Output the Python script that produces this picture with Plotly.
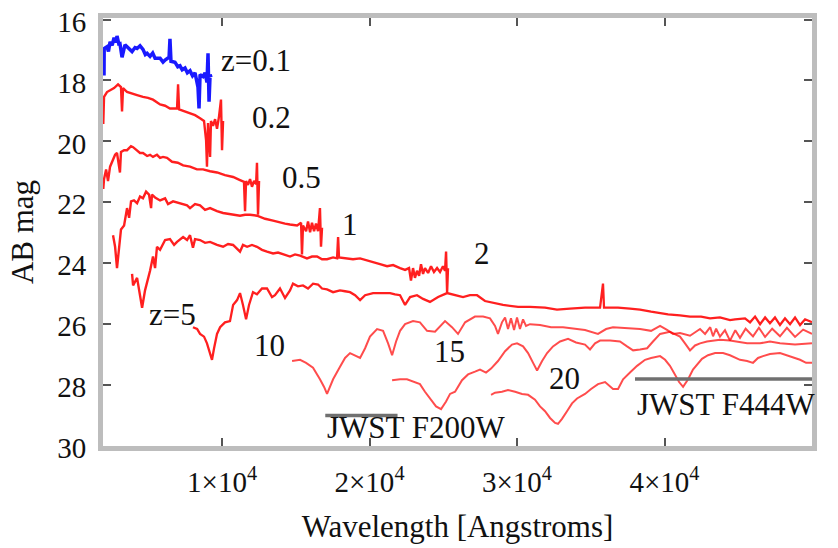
import plotly.graph_objects as go

# ---- data (wavelength in Angstroms, AB magnitude) ----
z01_wave = [2000, 2010, 2200, 2300, 2410, 2550, 2680, 2800, 2880, 3000, 3080, 3220, 3420, 3560, 3700, 3900, 4100, 4240, 4440, 4640, 4800, 4920, 5120, 5300, 5460, 5800, 6000, 6140, 6410, 6470, 6540, 6810, 7000, 7150, 7300, 7490, 7650, 7830, 8000, 8170, 8370, 8440, 8510, 8710, 8850, 8980, 9050, 9120, 9190, 9250]
z01_mag = [17.84, 16.95, 16.89, 17.05, 16.73, 16.85, 16.60, 16.75, 16.54, 16.80, 16.79, 17.24, 16.83, 16.89, 16.98, 17.05, 16.92, 16.95, 16.86, 16.98, 17.15, 17.11, 17.21, 17.10, 17.27, 17.27, 17.40, 17.33, 17.24, 16.63, 17.37, 17.40, 17.55, 17.52, 17.65, 17.59, 17.75, 17.68, 17.85, 17.75, 18.22, 18.92, 17.81, 17.87, 17.75, 18.06, 17.11, 18.70, 17.81, 17.90]

z02_wave = [1950, 2000, 2200, 2410, 2680, 2950, 3150, 3220, 3290, 3560, 3900, 4240, 4640, 4980, 5320, 5800, 6140, 6470, 6950, 7020, 7090, 7490, 7830, 8170, 8510, 8780, 8920, 8980, 9050, 9190, 9250, 9390, 9530, 9660, 9800, 9930, 10000, 10070]
z02_mag = [19.43, 18.54, 18.38, 18.32, 18.25, 18.13, 18.22, 19.02, 18.25, 18.38, 18.44, 18.48, 18.54, 18.57, 18.63, 18.79, 18.83, 18.92, 18.92, 18.13, 18.95, 19.02, 19.08, 19.14, 19.24, 19.33, 19.97, 20.83, 19.40, 20.51, 19.33, 19.49, 19.27, 19.59, 19.17, 18.63, 20.29, 19.33]

z05_wave = [1950, 2000, 2140, 2270, 2410, 2610, 2750, 2880, 3080, 3150, 3360, 3560, 3830, 3970, 4240, 4440, 4640, 4920, 5120, 5320, 5590, 5800, 6000, 6270, 6610, 7000, 7360, 7830, 8300, 8710, 9190, 9660, 10200, 10750, 11220, 11490, 11560, 11630, 11760, 11900, 12030, 12170, 12310, 12370, 12440, 12510]
z05_mag = [21.56, 21.24, 20.92, 21.30, 20.83, 20.60, 20.44, 20.38, 21.02, 20.35, 20.29, 20.29, 20.16, 20.19, 20.29, 20.38, 20.38, 20.48, 20.44, 20.51, 20.44, 20.54, 20.51, 20.54, 20.67, 20.70, 20.79, 20.83, 20.92, 20.92, 20.98, 21.02, 21.11, 21.17, 21.27, 21.33, 22.29, 21.30, 21.43, 21.24, 21.49, 21.30, 21.40, 20.70, 22.41, 21.30]

z1_wave = [2610, 2750, 2880, 3020, 3150, 3360, 3560, 3700, 3830, 4030, 4240, 4440, 4640, 4850, 5050, 5190, 5250, 5460, 5800, 6140, 6340, 6680, 7150, 7630, 7830, 8170, 8510, 8850, 9190, 9660, 10070, 10540, 11220, 11560, 11900, 12370, 12920, 13460, 13930, 14270, 14610, 15090, 15360, 15420, 15490, 15700, 15830, 15970, 16100, 16240, 16370, 16510, 16640, 16710, 16780]
z1_mag = [23.08, 23.46, 24.16, 23.46, 22.89, 22.76, 22.19, 22.51, 21.97, 21.94, 22.03, 21.81, 21.87, 21.65, 21.75, 22.19, 21.75, 21.84, 21.94, 21.87, 22.06, 21.97, 22.03, 22.10, 22.19, 22.06, 22.10, 22.25, 22.19, 22.29, 22.35, 22.38, 22.44, 22.41, 22.41, 22.44, 22.54, 22.60, 22.67, 22.70, 22.73, 22.76, 22.67, 23.71, 22.76, 22.95, 22.63, 22.98, 22.67, 22.95, 22.70, 22.95, 22.19, 23.46, 22.83]

z2_wave = [3900, 3970, 4240, 4440, 4580, 4780, 4920, 5120, 5320, 5460, 5590, 5800, 6140, 6470, 6750, 6950, 7360, 7630, 7830, 8030, 8170, 8510, 8850, 9190, 9660, 10070, 10410, 10750, 11220, 11420, 11700, 12030, 12370, 12710, 13050, 13460, 13800, 14140, 14610, 14950, 15290, 15760, 16100, 16440, 16780, 17120, 17530, 17800, 17870, 17930, 18340, 18880, 19360, 19830, 20240, 20710, 21190, 21600, 22070, 22410, 22680, 22810, 22950, 23080, 23220, 23360, 23490, 23630, 23760, 23970, 24170, 24370, 24580, 24780, 24980, 25120, 25190, 25260, 25320]
z2_mag = [24.35, 24.73, 24.48, 25.05, 25.46, 24.89, 24.63, 24.25, 23.78, 24.16, 23.46, 23.56, 23.24, 23.21, 23.40, 23.30, 23.14, 23.24, 23.08, 23.49, 23.21, 23.24, 23.33, 23.30, 23.40, 23.46, 23.37, 23.40, 23.62, 23.40, 23.46, 23.40, 23.46, 23.56, 23.62, 23.68, 23.65, 23.71, 23.78, 23.71, 23.75, 23.84, 23.78, 23.78, 23.87, 23.87, 23.81, 23.84, 23.14, 23.81, 23.84, 23.87, 23.84, 23.90, 23.97, 24.03, 24.10, 24.06, 24.16, 24.22, 24.16, 24.57, 24.16, 24.48, 24.25, 24.41, 24.03, 24.35, 24.16, 24.32, 24.10, 24.29, 24.16, 24.29, 24.10, 24.25, 23.62, 24.95, 24.16]

z5_wave = [8030, 8310, 8510, 8780, 8980, 9190, 9320, 9460, 9660, 9870, 10200, 10540, 10750, 11020, 11220, 11420, 11630, 11830, 12100, 12370, 12710, 13050, 13390, 13590, 13930, 14270, 14610, 14810, 15150, 15490, 15830, 16170, 16510, 16780, 17120, 17530, 18000, 18340, 18680, 19020, 19360, 19700, 20240, 20920, 21390, 21730, 22070, 22410, 22750, 23220, 23630, 24100, 24650, 25260, 25800, 26340, 26810, 27290, 27830, 28170, 29050, 30070, 30880, 31900, 32710, 33590, 34610, 35630, 35830, 35900, 36850, 37660, 38340, 39090, 39700, 40240, 41050, 41730, 42480, 43090, 43760, 44440, 44780, 45460, 45800, 46140, 46480, 46820, 47150, 47490, 47830, 48170, 48510, 48850, 49190, 49530, 50000]
z5_mag = [26.10, 26.16, 26.32, 26.41, 26.63, 26.95, 27.17, 26.79, 26.32, 26.10, 25.94, 25.90, 25.37, 25.21, 24.98, 25.37, 25.84, 25.37, 24.95, 25.02, 24.83, 24.83, 25.11, 25.05, 24.83, 25.14, 24.89, 24.67, 24.76, 24.73, 24.83, 24.67, 24.70, 24.83, 24.86, 24.95, 24.89, 24.92, 24.95, 25.05, 25.21, 25.05, 24.98, 24.98, 24.98, 25.02, 25.05, 25.37, 25.11, 25.05, 25.17, 25.27, 25.11, 24.98, 25.05, 25.11, 25.05, 25.05, 25.24, 25.27, 25.37, 25.43, 25.43, 25.46, 25.52, 25.49, 25.46, 25.46, 24.67, 25.46, 25.46, 25.49, 25.52, 25.59, 25.65, 25.68, 25.71, 25.75, 25.75, 25.81, 25.78, 25.87, 25.84, 25.81, 25.94, 25.75, 26.00, 25.78, 25.97, 25.78, 26.03, 25.81, 26.00, 25.78, 26.03, 25.84, 25.94]

z10_wave = [14750, 15290, 15700, 16170, 16640, 16920, 17120, 17320, 17530, 18000, 18340, 18680, 19020, 19360, 19700, 20030, 20510, 20920, 21260, 21530, 21800, 22070, 22410, 22950, 23420, 23900, 24440, 25120, 25590, 26000, 26480, 27150, 27700, 28170, 28510, 28710, 28980, 29190, 29390, 29590, 29800, 30000, 30200, 30410, 30610, 30880, 31560, 32310, 33120, 33930, 34610, 35490, 36040, 36510, 37320, 38340, 39090, 39700, 40170, 40580, 41050, 41730, 42410, 42750, 43100, 43290, 43500, 43760, 44100, 44440, 44800, 45120, 45500, 46000, 46400, 46820, 47300, 47830, 48300, 48850, 49400, 50000]
z10_mag = [27.21, 27.17, 27.27, 27.43, 27.81, 28.06, 28.29, 28.06, 27.81, 27.40, 27.11, 26.95, 27.02, 27.11, 26.79, 26.41, 26.16, 26.22, 26.63, 27.02, 26.57, 26.22, 26.00, 25.90, 25.94, 26.22, 26.25, 25.90, 26.10, 26.32, 25.94, 25.75, 25.75, 25.81, 26.06, 26.32, 25.94, 25.78, 26.16, 25.81, 26.19, 25.78, 26.16, 25.84, 26.06, 26.00, 26.03, 26.10, 26.10, 26.16, 26.19, 26.32, 26.16, 26.10, 26.13, 26.16, 26.22, 26.06, 26.19, 26.32, 26.29, 26.38, 26.16, 26.32, 26.10, 26.40, 26.15, 26.41, 26.20, 26.54, 26.20, 26.45, 26.15, 26.40, 26.12, 26.42, 26.15, 26.40, 26.12, 26.42, 26.18, 26.32]

z15_wave = [21530, 22070, 22540, 23020, 23420, 23760, 24100, 24510, 24850, 25190, 25460, 25800, 26270, 26680, 27150, 27490, 27900, 28240, 28710, 29190, 29660, 30000, 30410, 30750, 31090, 31360, 31700, 32040, 32440, 32920, 33460, 34000, 34610, 34950, 35290, 35630, 36310, 36980, 37460, 37870, 38340, 38820, 39220, 39700, 40370, 41050, 41390, 41730, 42070, 42410, 42880, 43290, 43760, 44440, 45120, 45600, 46480, 47150, 47830, 48850, 50000]
z15_mag = [27.84, 27.81, 27.81, 27.90, 27.97, 28.22, 28.44, 28.70, 28.79, 28.54, 28.29, 28.22, 27.84, 27.65, 27.56, 27.49, 27.59, 27.46, 27.21, 26.89, 26.67, 26.63, 26.73, 26.95, 27.27, 27.52, 27.21, 26.95, 26.73, 26.57, 26.48, 26.60, 26.67, 26.83, 26.63, 26.54, 26.54, 26.57, 26.73, 26.86, 26.83, 26.79, 26.57, 26.32, 26.25, 26.41, 26.63, 26.86, 26.70, 26.63, 26.57, 26.54, 26.51, 26.54, 26.60, 26.63, 26.63, 26.57, 26.63, 26.67, 26.63]

z20_wave = [28240, 28510, 28980, 29390, 29870, 30340, 30750, 31220, 31560, 31900, 32240, 32580, 32780, 33050, 33390, 33730, 34070, 34610, 35020, 35490, 35970, 36510, 36850, 37190, 37660, 38140, 38680, 39090, 39700, 40040, 40370, 40710, 40990, 41260, 41600, 41930, 42210, 42540, 42950, 43430, 43970, 44440, 45120, 45600, 46000, 46340, 46680, 47150, 47830, 48510, 49190, 49600, 50000]
z20_mag = [28.32, 28.25, 28.22, 28.16, 28.22, 28.29, 28.32, 28.48, 28.70, 28.86, 29.08, 29.24, 29.27, 29.11, 28.86, 28.60, 28.44, 28.29, 28.13, 27.97, 27.90, 28.13, 28.13, 27.81, 27.59, 27.37, 27.17, 27.11, 27.05, 27.17, 27.37, 27.68, 27.90, 28.06, 27.81, 27.49, 27.33, 27.14, 27.02, 26.95, 26.95, 27.02, 27.17, 27.21, 27.27, 27.11, 27.05, 26.98, 26.95, 27.05, 27.17, 27.27, 27.27]

f200w_wave = [17000, 21900]
f200w_mag = [29.0, 29.0]
f444w_wave = [38000, 50000]
f444w_mag = [27.8, 27.8]

xtick_vals = [10000, 20000, 30000, 40000, 50000]
xtick_text = ["1×10<sup>4</sup>", "2×10<sup>4</sup>", "3×10<sup>4</sup>", "4×10<sup>4</sup>", "5×10<sup>4</sup>"]
ytick_vals = [16, 18, 20, 22, 24, 26, 28, 30]

labels = ["z=0.1", "0.2", "0.5", "1", "2", "z=5", "10", "15", "20", "JWST F200W", "JWST F444W"]
label_wave = [9800, 11900, 13930, 18000, 26950, 4900, 12030, 24240, 32040, 16980, 38000]
label_mag = [17.33, 19.2, 21.17, 22.73, 23.68, 25.68, 26.7, 26.9, 27.8, 29.4, 28.63]

FONT = "Liberation Serif"
RED = "rgba(255,0,0,0.88)"
PINK = "rgba(255,0,0,0.7)"

fig = go.Figure()
spectra = [
    (z01_wave, z01_mag, "rgba(0,0,255,0.9)", 3.5),
    (z02_wave, z02_mag, RED, 2.4),
    (z05_wave, z05_mag, RED, 2.4),
    (z1_wave, z1_mag, RED, 2.4),
    (z2_wave, z2_mag, RED, 2.4),
    (z5_wave, z5_mag, RED, 2.3),
    (z10_wave, z10_mag, PINK, 2.0),
    (z15_wave, z15_mag, PINK, 2.0),
    (z20_wave, z20_mag, PINK, 2.0),
]
for w, m, c, lw in spectra:
    fig.add_trace(go.Scatter(x=w, y=m, mode="lines", line=dict(color=c, width=lw), showlegend=False, hoverinfo="skip"))

for w, m in [(f200w_wave, f200w_mag), (f444w_wave, f444w_mag)]:
    fig.add_trace(go.Scatter(x=w, y=m, mode="lines", line=dict(color="#707070", width=3.5), showlegend=False, hoverinfo="skip"))

for t, x, y in zip(labels, label_wave, label_mag):
    fig.add_annotation(x=x, y=y, text=t, showarrow=False, xanchor="left", yanchor="middle",
                       font=dict(family=FONT, size=31, color="#111"))

axis_common = dict(showline=True, linecolor="#bdbdbd", linewidth=5, mirror="ticks",
                   ticks="inside", ticklen=8, tickwidth=2, tickcolor="#555",
                   showgrid=False, zeroline=False, tickfont=dict(family=FONT, size=29, color="#111"))

fig.update_xaxes(range=[1930, 50000], tickvals=xtick_vals, ticktext=xtick_text,
                 title=dict(text="Wavelength [Angstroms]", font=dict(family=FONT, size=31, color="#111"), standoff=20),
                 ticklabelstandoff=6, **axis_common)
fig.update_yaxes(range=[30, 15.95], tickvals=ytick_vals,
                 title=dict(text="AB mag", font=dict(family=FONT, size=31, color="#111"), standoff=16),
                 ticklabelstandoff=6, ticklabelshift=-2, ticklabeloverflow="allow", **axis_common)

fig.update_layout(width=838, height=548, margin=dict(l=103, r=26, t=6, b=102),
                  plot_bgcolor="white", paper_bgcolor="white")

fig.write_html("out.html", config={"displayModeBar": False},
               post_script="document.body.style.margin='0';document.body.style.overflow='hidden';")
